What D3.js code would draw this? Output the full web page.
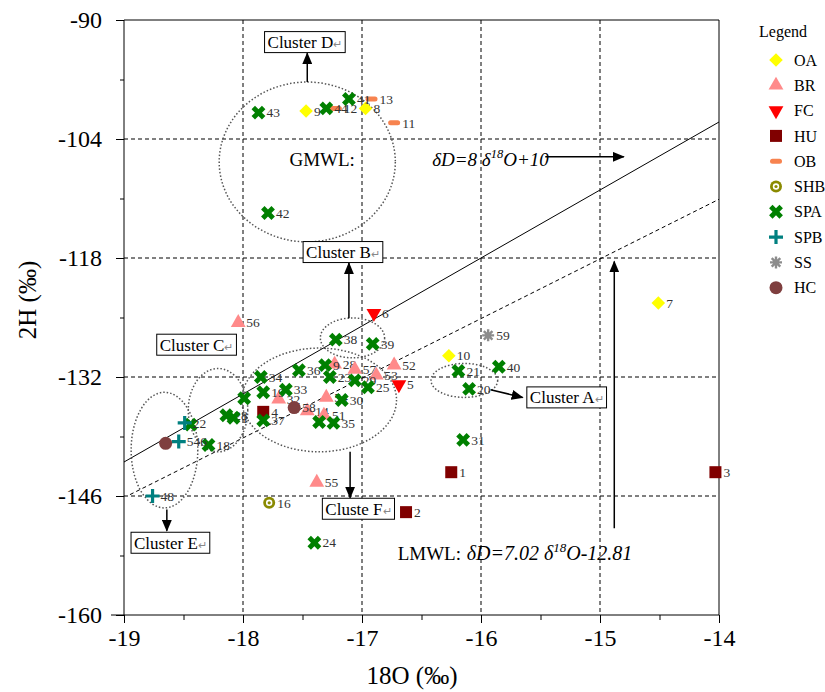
<!DOCTYPE html>
<html><head><meta charset="utf-8">
<script src="https://cdn.jsdelivr.net/npm/d3@7"></script>
<style>body{margin:0;background:#fff} text{font-family:"Liberation Serif","Times New Roman",serif}</style>
</head><body><svg id="c" width="825" height="692"></svg>
<script>
// ---------- data ----------
const xTicks = [-19, -18, -17, -16, -15, -14];
const yTicks = [-90, -104, -118, -132, -146, -160];
const xMinor = [-18.5, -17.5, -16.5, -15.5, -14.5];
const yMinor = [-97, -111, -125, -139, -153];
const seriesNames = ["OA", "BR", "FC", "HU", "OB", "SHB", "SPA", "SPB", "SS", "HC"];
// [d18O, d2H, sample no.]
const OA  = [[-17.47,-100.7,"9"],[-16.97,-100.4,"8"],[-14.51,-123.3,"7"],[-16.27,-129.5,"10"]];
const BR  = [[-18.04,-125.6,"56"],[-17.23,-130.5,"28"],[-17.06,-131.1,"57"],[-16.88,-131.8,"53"],
             [-16.73,-130.6,"52"],[-17.70,-134.6,"32"],[-17.46,-136.0,"14"],[-17.30,-134.4,"54"],
             [-17.32,-136.5,"51"],[-17.38,-144.4,"55"]];
const FC  = [[-16.90,-124.5,"6"],[-16.69,-132.9,"5"]];
const HU  = [[-17.83,-136.1,"4"],[-16.25,-143.2,"1"],[-16.63,-147.9,"2"],[-14.03,-143.2,"3"]];
const OB  = [[-17.22,-100.4,"12"],[-16.92,-99.3,"13"],[-16.73,-102.1,"11"]];
const SHB = [[-17.78,-146.8,"16"]];
const SPA = [[-17.87,-100.9,"43"],[-17.30,-100.4,"44"],[-17.11,-99.3,"41"],[-17.79,-112.7,"42"],
             [-17.22,-127.6,"38"],[-16.91,-128.1,"39"],[-17.53,-131.2,"36"],[-17.31,-130.6,"9"],
             [-17.85,-132.0,"34"],[-17.27,-132.0,"23"],[-17.06,-132.4,"29"],[-16.95,-133.2,"25"],
             [-17.83,-133.8,"19"],[-17.64,-133.5,"33"],[-17.17,-134.7,"30"],[-17.83,-137.1,"37"],
             [-17.24,-137.4,"35"],[-17.36,-137.3,""],[-18.29,-140.0,"18"],[-17.99,-134.5,""],
             [-18.14,-136.5,"28"],[-18.08,-136.8,"1"],[-18.44,-137.6,""],[-16.19,-131.3,"21"],
             [-16.10,-133.4,"20"],[-15.85,-130.8,"40"],[-16.15,-139.4,"31"],[-17.40,-151.5,"24"]];
const SPB = [[-18.49,-137.4,"22"],[-18.54,-139.6,"546"],[-18.76,-146.0,"48"]];
const SS  = [[-15.94,-127.1,"59"]];
const HC  = [[-18.65,-139.8,""],[-17.57,-135.6,"58"]];
const seriesData = [OA, BR, FC, HU, OB, SHB, SPA, SPB, SS, HC];
const colors = ["#ffff00","#ff8a8a","#ff0000","#800000","#f7834f","#8a8a00","#008000","#008080","#8c8c8c","#7f3f3f"];
// reference lines: slope, intercept
const GMWL = [8, 10];
const LMWL = [7.02, -12.81];
// cluster annotations (data units)
const ellipses = [[-17.46,-106.7,0.74,9.4],[-17.08,-127.4,0.27,2.35],[-18.21,-135.9,0.25,4.9],
                  [-18.66,-140.6,0.28,6.8],[-17.36,-134.7,0.65,6.1],[-16.14,-132.4,0.28,2.0]];
const boxes = [["Cluster D",-17.48,-92.6],["Cluster B",-17.16,-117.3],["Cluster C",-18.39,-128.2],
               ["Cluster E",-18.61,-151.5],["Cluster A",-15.28,-134.4],["Cluste F",-17.03,-147.5]];
const arrows = [[-17.46,-97.3,-17.46,-93.9],[-17.11,-125.1,-17.11,-118.6],[-17.10,-140.8,-17.10,-146.2],
                [-18.64,-147.6,-18.64,-150.1],[-15.92,-133.5,-15.65,-134.4],[-15.46,-106.1,-14.80,-106.1],
                [-14.88,-149.8,-14.88,-118.4]];

// ---------- drawing ----------
const svg = d3.select("#c");
const x = d3.scaleLinear().domain([-19, -14]).range([124, 719]);
const y = d3.scaleLinear().domain([-160, -90]).range([615, 20]);

svg.append("defs").append("marker").attr("id","ah").attr("viewBox","0 0 12 10")
  .attr("refX",11).attr("refY",5).attr("markerWidth",12).attr("markerHeight",10)
  .attr("markerUnits","userSpaceOnUse").attr("orient","auto")
  .append("path").attr("d","M0,0L12,5L0,10Z").attr("fill","#000");

// grid
const g = svg.append("g");
g.selectAll(".vg").data(xTicks.slice(1,5)).join("line")
  .attr("x1",d=>x(d)).attr("x2",d=>x(d)).attr("y1",y(-90)).attr("y2",y(-160))
  .attr("stroke","#000").attr("stroke-dasharray","4,3");
g.selectAll(".hg").data(yTicks.slice(1,5)).join("line")
  .attr("y1",d=>y(d)).attr("y2",d=>y(d)).attr("x1",x(-19)).attr("x2",x(-14))
  .attr("stroke","#000").attr("stroke-dasharray","4,3");

// axes
const xa = svg.append("g").attr("transform",`translate(0,${y(-160)})`)
  .call(d3.axisBottom(x).tickValues(xTicks).tickSize(8).tickPadding(6).tickFormat(d=>"-"+Math.abs(d)));
const xm = svg.append("g").attr("transform",`translate(0,${y(-160)})`)
  .call(d3.axisBottom(x).tickValues(xMinor).tickSize(5).tickFormat(""));
const ya = svg.append("g").attr("transform",`translate(${x(-19)},0)`)
  .call(d3.axisLeft(y).tickValues(yTicks).tickSize(8).tickPadding(14).tickFormat(d=>"-"+Math.abs(d)));
const ym = svg.append("g").attr("transform",`translate(${x(-19)},0)`)
  .call(d3.axisLeft(y).tickValues(yMinor).tickSize(4).tickFormat(""));
[xa,xm,ya,ym].forEach(a=>{a.select(".domain").remove(); a.selectAll("line").attr("stroke","#000");
  a.selectAll("text").attr("font-size",24).attr("fill","#000").style("font-family","Liberation Serif");});
svg.append("line").attr("x1",111).attr("x2",x(-14)).attr("y1",y(-160)).attr("y2",y(-160)).attr("stroke","#000");
svg.append("line").attr("x1",x(-19)).attr("x2",x(-19)).attr("y1",y(-90)).attr("y2",y(-160)).attr("stroke","#000");
svg.append("line").attr("x1",x(-19)).attr("x2",x(-14)).attr("y1",y(-90)).attr("y2",y(-90)).attr("stroke","#000");
svg.append("line").attr("x1",x(-14)).attr("x2",x(-14)).attr("y1",y(-90)).attr("y2",y(-160)).attr("stroke","#000");

svg.append("text").attr("x",412).attr("y",684).attr("text-anchor","middle").attr("font-size",25).text("18O (‰)");
svg.append("text").attr("transform","translate(36,300) rotate(-90)").attr("text-anchor","middle").attr("font-size",25).text("2H (‰)");

// water lines
svg.append("line").attr("x1",x(-19)).attr("y1",y(GMWL[0]*-19+GMWL[1])).attr("x2",x(-14)).attr("y2",y(GMWL[0]*-14+GMWL[1]))
  .attr("stroke","#000").attr("stroke-width",1);
svg.append("line").attr("x1",x(-18.95)).attr("y1",y(LMWL[0]*-18.95+LMWL[1])).attr("x2",x(-14)).attr("y2",y(LMWL[0]*-14+LMWL[1]))
  .attr("stroke","#000").attr("stroke-width",1).attr("stroke-dasharray","4,3");

// ellipses
svg.selectAll(".el").data(ellipses).join("ellipse")
  .attr("cx",d=>x(d[0])).attr("cy",d=>y(d[1]))
  .attr("rx",d=>x(d[0]+d[2])-x(d[0])).attr("ry",d=>y(d[1])-y(d[1]+d[3]))
  .attr("fill","none").attr("stroke","#555").attr("stroke-width",1.5).attr("stroke-dasharray","1.5,2");

// arrows
svg.selectAll(".ar").data(arrows).join("line")
  .attr("x1",d=>x(d[0])).attr("y1",d=>y(d[1])).attr("x2",d=>x(d[2])).attr("y2",d=>y(d[3]))
  .attr("stroke","#000").attr("stroke-width",1.5).attr("marker-end","url(#ah)");

// equations
const g1 = svg.append("text").attr("x",x(-17.61)).attr("y",y(-107.2)).attr("font-size",19);
g1.append("tspan").text("GMWL:");
g1.append("tspan").attr("x",x(-16.41)).attr("font-style","italic").attr("font-size",19).text("δD=8 δ");
g1.append("tspan").attr("dy",-8).attr("font-style","italic").attr("font-size",12.5).text("18");
g1.append("tspan").attr("dy",8).attr("font-style","italic").attr("font-size",19).text("O+10");
const g2 = svg.append("text").attr("x",x(-16.70)).attr("y",y(-153.5)).attr("font-size",19);
g2.append("tspan").text("LMWL:");
g2.append("tspan").attr("x",x(-16.12)).attr("font-style","italic").attr("font-size",20).text("δD=7.02 δ");
g2.append("tspan").attr("dy",-8).attr("font-style","italic").attr("font-size",13).text("18");
g2.append("tspan").attr("dy",8).attr("font-style","italic").attr("font-size",20).text("O-12.81");

// cluster boxes
boxes.forEach(b=>{
  const gg = svg.append("g");
  const t = gg.append("text").attr("x",x(b[1])).attr("y",y(b[2])+6).attr("text-anchor","middle").attr("font-size",17);
  t.append("tspan").text(b[0]);
  t.append("tspan").attr("fill","#888").attr("font-size",11).text("↵");
  const bb = t.node().getBBox();
  gg.insert("rect","text").attr("x",bb.x-3).attr("y",y(b[2])-10.5).attr("width",bb.width+6).attr("height",21)
    .attr("fill","#fff").attr("stroke","#000").attr("stroke-width",1);
});

// symbols
function mark(sel, type, color) {
  switch(type){
    case "OA": sel.append("rect").attr("x",-4.8).attr("y",-4.8).attr("width",9.6).attr("height",9.6).attr("transform","rotate(45)").attr("fill",color); break;
    case "BR": sel.append("path").attr("d",d3.symbol(d3.symbolTriangle,95)()).attr("fill",color); break;
    case "FC": sel.append("path").attr("d",d3.symbol(d3.symbolTriangle,95)()).attr("transform","rotate(180)").attr("fill",color); break;
    case "HU": sel.append("rect").attr("x",-6).attr("y",-6).attr("width",12).attr("height",12).attr("fill",color); break;
    case "OB": sel.append("rect").attr("x",-6).attr("y",-2.5).attr("width",12).attr("height",5).attr("rx",2.5).attr("fill",color); break;
    case "SHB": sel.append("circle").attr("r",6).attr("fill",color);
                sel.append("circle").attr("r",3.2).attr("fill","#fff");
                sel.append("circle").attr("r",1.6).attr("fill",color); break;
    case "SPA": sel.append("path").attr("d",d3.symbol(d3.symbolCross,120)()).attr("transform","rotate(45)").attr("fill",color); break;
    case "SPB": sel.append("path").attr("d","M-7,0H7M0,-7V7").attr("stroke",color).attr("stroke-width",3.2); break;
    case "SS": sel.append("path").attr("d","M-6,0H6M0,-6V6M-4.3,-4.3L4.3,4.3M-4.3,4.3L4.3,-4.3").attr("stroke",color).attr("stroke-width",2.4); break;
    case "HC": sel.append("circle").attr("r",6.5).attr("fill",color); break;
  }
}

seriesNames.forEach((name,i)=>{
  const gp = svg.append("g");
  const pts = gp.selectAll("g").data(seriesData[i]).join("g")
    .attr("transform",d=>`translate(${x(d[0])},${y(d[1])})`);
  pts.each(function(){ mark(d3.select(this), name, colors[i]); });
  pts.append("text").attr("x",8).attr("dy","0.35em").attr("font-size",13.5).attr("fill","#333").text(d=>d[2]);
});

// legend
svg.append("text").attr("x",783).attr("y",37).attr("text-anchor","middle").attr("font-size",16).text("Legend");
seriesNames.forEach((name,i)=>{
  const ly = 60 + i*25.3;
  const lg = svg.append("g").attr("transform",`translate(776,${ly})`);
  mark(lg, name, colors[i]);
  lg.append("text").attr("x",18).attr("dy","0.35em").attr("font-size",16).text(name);
});
</script></body></html>
